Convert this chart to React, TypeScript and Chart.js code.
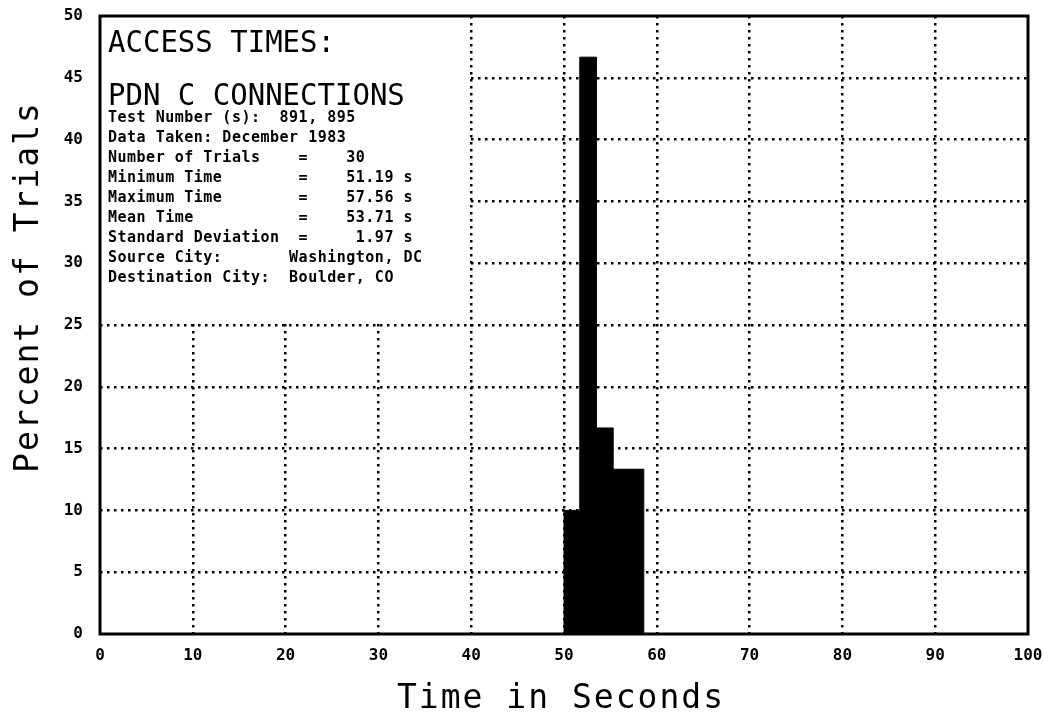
import React, { useEffect, useRef } from "react";
import { Chart, registerables } from "chart.js";

Chart.register(...registerables);

// ---- data ----
const binEdges: number[] = [50, 51.7, 53.5, 55.3, 58.6];
const binPercents: number[] = [10, 46.67, 16.67, 13.33];
const xTickValues: number[] = [0, 10, 20, 30, 40, 50, 60, 70, 80, 90, 100];
const yTickValues: number[] = [0, 5, 10, 15, 20, 25, 30, 35, 40, 45, 50];
const titleLines: string[] = ["ACCESS TIMES:", "PDN C CONNECTIONS"];
const infoLines: string[] = [
  "Test Number (s):  891, 895",
  "Data Taken: December 1983",
  "Number of Trials    =    30",
  "Minimum Time        =    51.19 s",
  "Maximum Time        =    57.56 s",
  "Mean Time           =    53.71 s",
  "Standard Deviation  =     1.97 s",
  "Source City:       Washington, DC",
  "Destination City:  Boulder, CO",
];
const xAxisTitle = "Time in Seconds";
const yAxisTitle = "Percent of Trials";

const MONO = '"DejaVu Sans Mono", monospace';

const histPoints = [
  { x: binEdges[0], y: 0 },
  ...binPercents.map((p, i) => ({ x: binEdges[i], y: p })),
  { x: binEdges[binEdges.length - 1], y: 0 },
];

const annotatePlugin = {
  id: "annotate",
  beforeDatasetsDraw(chart: any) {
    const { ctx, chartArea, scales } = chart;
    const xs = scales.x;
    const ys = scales.y;
    ctx.save();
    // white panel behind the info text
    const right = xs.getPixelForValue(40) - 3;
    const bottom = ys.getPixelForValue(25) - 3;
    ctx.fillStyle = "#fff";
    ctx.fillRect(chartArea.left, chartArea.top, right - chartArea.left, bottom - chartArea.top);

    ctx.fillStyle = "#000";
    ctx.textAlign = "left";
    ctx.textBaseline = "alphabetic";
    // titles
    ctx.font = `29px ${MONO}`;
    titleLines.forEach((t, i) => {
      ctx.save();
      ctx.translate(chartArea.left + 8, chartArea.top + 36 + i * 53);
      ctx.scale(1, 1.05);
      ctx.fillText(t, 0, 0);
      ctx.restore();
    });
    // info lines
    ctx.font = `bold 15px ${MONO}`;
    (ctx as any).letterSpacing = "0.5px";
    infoLines.forEach((t, i) => {
      ctx.fillText(t, chartArea.left + 8, chartArea.top + 106 + i * 20);
    });
    ctx.restore();
  },
  afterDraw(chart: any) {
    const { ctx, chartArea } = chart;
    ctx.save();
    ctx.strokeStyle = "#000";
    ctx.lineWidth = 3;
    ctx.strokeRect(chartArea.left, chartArea.top, chartArea.right - chartArea.left, chartArea.bottom - chartArea.top);

    // axis titles
    ctx.fillStyle = "#000";
    ctx.font = `33px ${MONO}`;
    (ctx as any).letterSpacing = "2px";
    ctx.textAlign = "center";
    ctx.textBaseline = "alphabetic";
    ctx.fillText(xAxisTitle, 561, 708);
    ctx.save();
    ctx.translate(38, 287);
    ctx.rotate(-Math.PI / 2);
    ctx.fillText(yAxisTitle, 0, 0);
    ctx.restore();
    ctx.restore();
  },
};

const edgeTransparent = (min: number, max: number) => (c: any) =>
  c.tick && (c.tick.value === min || c.tick.value === max) ? "rgba(0,0,0,0)" : "#000";

export default function App() {
  const canvasRef = useRef<HTMLCanvasElement | null>(null);

  useEffect(() => {
    const canvas = canvasRef.current;
    if (!canvas) return;
    const chart = new Chart(canvas, {
      type: "line",
      data: {
        datasets: [
          {
            data: histPoints,
            stepped: "before",
            fill: "origin",
            backgroundColor: "#000",
            borderColor: "#000",
            borderWidth: 1,
            pointRadius: 0,
          } as any,
        ],
      },
      options: {
        responsive: false,
        animation: false,
        devicePixelRatio: 1,
        layout: { padding: { top: 16, right: 15, left: 0, bottom: 0 } },
        plugins: { legend: { display: false }, tooltip: { enabled: false } },
        scales: {
          x: {
            type: "linear",
            min: 0,
            max: 100,
            afterBuildTicks: (s: any) => {
              s.ticks = xTickValues.map((v) => ({ value: v }));
            },
            afterFit: (s: any) => {
              s.height = 85;
              s.paddingLeft = 0;
              s.paddingRight = 0;
            },
            grid: { color: edgeTransparent(0, 100), lineWidth: 2.5, drawTicks: false },
            border: { display: false, dash: [2.5, 4.5] },
            ticks: {
              color: "#000",
              padding: 12,
              maxRotation: 0,
              autoSkip: false,
              font: { family: MONO, size: 16, weight: "bold" },
            },
          },
          y: {
            type: "linear",
            min: 0,
            max: 50,
            afterBuildTicks: (s: any) => {
              s.ticks = yTickValues.map((v) => ({ value: v }));
            },
            afterFit: (s: any) => {
              s.width = 100;
              s.paddingTop = 0;
              s.paddingBottom = 0;
            },
            grid: { color: edgeTransparent(0, 50), lineWidth: 2.5, drawTicks: false },
            border: { display: false, dash: [2.5, 4.5] },
            ticks: {
              color: "#000",
              padding: 17,
              autoSkip: false,
              font: { family: MONO, size: 16, weight: "bold" },
            },
          },
        },
      },
      plugins: [annotatePlugin],
    });
    return () => chart.destroy();
  }, []);

  return (
    <canvas
      ref={canvasRef}
      width={1043}
      height={719}
      style={{ position: "absolute", left: 0, top: 0, display: "block" }}
    />
  );
}
